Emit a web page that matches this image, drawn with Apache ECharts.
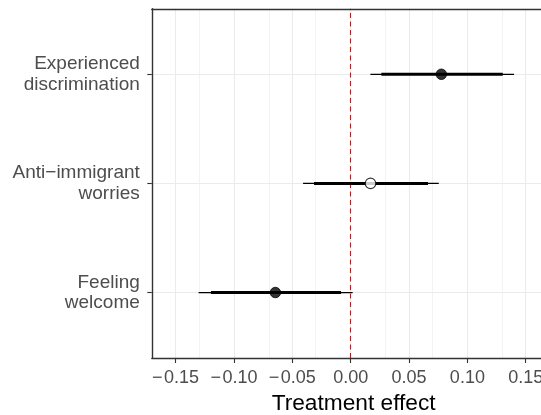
<!DOCTYPE html>
<html>
<head>
<meta charset="utf-8">
<script src="https://cdn.jsdelivr.net/npm/echarts@6/dist/echarts.min.js"></script>
<style>
  html, body { margin: 0; padding: 0; overflow: hidden; background: #ffffff; }
  #chart { width: 570px; height: 415px; }
</style>
</head>
<body>
<div id="chart"></div>
<script>
// Outcomes, listed bottom to top
const outcomes = ['Feeling\nwelcome', 'Anti\u2212immigrant\nworries', 'Experienced\ndiscrimination'];
// Point estimates of the treatment effect
const estimates = [-0.0645, 0.0170, 0.0777];
// 90% intervals (thick bars)
const lower90 = [-0.1197, -0.0314, 0.0263];
const upper90 = [-0.0083, 0.0663, 0.1303];
// 95% intervals (thin bars)
const lower95 = [-0.1303, -0.0408, 0.0169];
const upper95 = [0.0017, 0.0755, 0.1400];
// Axis ticks and grid positions
const xTicks = [-0.15, -0.10, -0.05, 0.00, 0.05, 0.10, 0.15];
const xMinorGrid = [-0.125, -0.075, -0.025, 0.025, 0.075, 0.125];
const yPositions = [1, 2, 3];

const X_MIN = -0.1704, X_MAX = 0.1755;
const INK = '#333333';
const FONT = 'Liberation Sans, Arial, sans-serif';

const fmtTick = v => (v < 0 ? '\u2212\u200A' : '') + Math.abs(v).toFixed(2);

const thinData = outcomes.map((_, i) => [lower95[i], upper95[i], yPositions[i]]);
const thickData = outcomes.map((_, i) => [lower90[i], upper90[i], yPositions[i]]);
const pointData = outcomes.map((_, i) => {
  // filled marker when the 90% interval excludes zero
  const sig = lower90[i] > 0 || upper90[i] < 0;
  return {
    value: [estimates[i], yPositions[i]],
    itemStyle: sig
      ? { color: '#000000', borderColor: '#000000', borderWidth: 1 }
      : { color: '#ffffff', borderColor: '#000000', borderWidth: 1.1 }
  };
});

function intervalRenderer(width) {
  return function (params, api) {
    const y = api.value(2);
    const a = api.coord([api.value(0), y]);
    const b = api.coord([api.value(1), y]);
    return {
      type: 'line',
      shape: { x1: a[0], y1: a[1], x2: b[0], y2: b[1] },
      style: { stroke: '#000000', lineWidth: width, lineCap: 'butt' }
    };
  };
}

const gridLines = []
  .concat(xMinorGrid.map(v => ({ xAxis: v, lineStyle: { color: '#f0f0f0', width: 0.8, type: 'solid' } })))
  .concat(xTicks.map(v => ({ xAxis: v, lineStyle: { color: '#ebebeb', width: 1.1, type: 'solid' } })))
  .concat(yPositions.map(v => ({ yAxis: v, lineStyle: { color: '#ebebeb', width: 1.1, type: 'solid' } })));

const chart = echarts.init(document.getElementById('chart'), null, { renderer: 'canvas' });
chart.setOption({
  animation: false,
  backgroundColor: '#ffffff',
  textStyle: { fontFamily: FONT },
  grid: { left: 151.8, top: 8.8, right: 14.5, bottom: 57, containLabel: false, outerBoundsMode: 'none' },
  xAxis: [
    {
      type: 'value', position: 'bottom', min: X_MIN, max: X_MAX, z: 10,
      name: 'Treatment effect', nameLocation: 'middle', nameGap: 34,
      nameTextStyle: { color: '#000000', fontSize: 22.7, fontFamily: FONT },
      axisLine: { show: true, onZero: false, lineStyle: { color: INK, width: 1.4 } },
      axisTick: { show: true, customValues: xTicks, length: 5, lineStyle: { color: INK, width: 1.1 } },
      axisLabel: { customValues: xTicks, formatter: fmtTick, color: '#4d4d4d', fontSize: 18, margin: 11, fontFamily: FONT },
      splitLine: { show: false }
    },
    {
      type: 'value', position: 'top', min: X_MIN, max: X_MAX, z: 10,
      axisLine: { show: true, onZero: false, lineStyle: { color: INK, width: 1.4 } },
      axisTick: { show: false }, axisLabel: { show: false }, splitLine: { show: false }
    }
  ],
  yAxis: {
    type: 'value', min: 0.4, max: 3.6, z: 10,
    axisLine: { show: true, onZero: false, lineStyle: { color: INK, width: 1.4 } },
    axisTick: { show: true, customValues: yPositions, length: 4.5, lineStyle: { color: INK, width: 1.1 } },
    axisLabel: {
      customValues: yPositions,
      formatter: v => outcomes[Math.round(v) - 1],
      color: '#4d4d4d', fontSize: 19, lineHeight: 20.5, margin: 12, align: 'right',
      padding: [4, 0, 0, 0], fontFamily: FONT
    },
    splitLine: { show: false }
  },
  series: [
    {
      type: 'scatter', data: [], silent: true, z: 0,
      markLine: { silent: true, z: 0, symbol: 'none', label: { show: false }, animation: false, data: gridLines }
    },
    {
      type: 'scatter', data: [], silent: true, z: 1,
      markLine: {
        silent: true, z: 1, symbol: 'none', label: { show: false }, animation: false,
        data: [{ xAxis: 0, lineStyle: { color: '#ff0000', width: 1.1, type: [5, 3.5] } }]
      }
    },
    { type: 'custom', data: thinData, encode: { x: [0, 1], y: 2 }, renderItem: intervalRenderer(1.2), silent: true, z: 2 },
    { type: 'custom', data: thickData, encode: { x: [0, 1], y: 2 }, renderItem: intervalRenderer(3), silent: true, z: 3 },
    { type: 'scatter', data: pointData, symbol: 'circle', symbolSize: 10.5, silent: true, z: 4 }
  ]
});
</script>
</body>
</html>
